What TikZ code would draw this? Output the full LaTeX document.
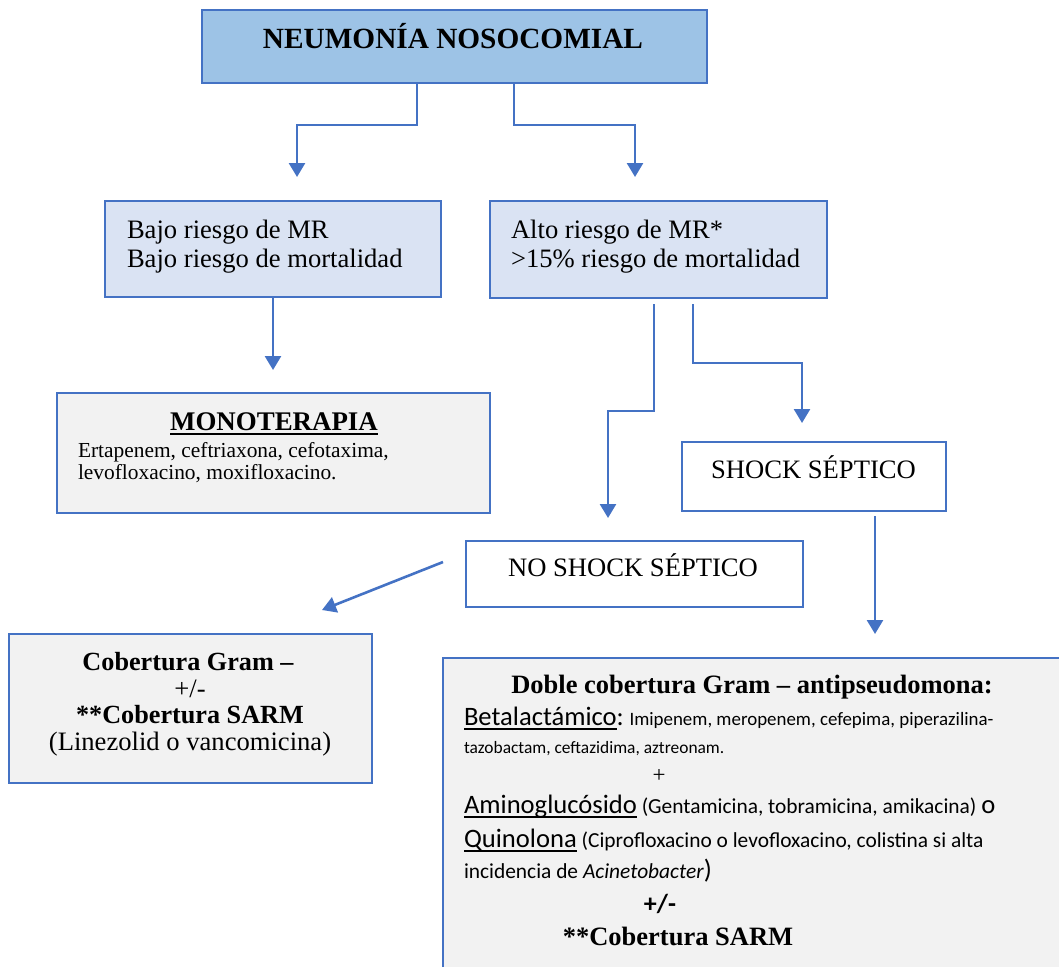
\documentclass[tikz,border=0pt]{standalone}
\usepackage{fontspec}
\setmainfont{Liberation Serif}
\newfontfamily\calibrif{Carlito}
\usetikzlibrary{arrows.meta}
\definecolor{bblue}{HTML}{4472C4}
\definecolor{titlefill}{HTML}{9DC3E6}
\definecolor{lightfill}{HTML}{DAE3F3}
\definecolor{grayfill}{HTML}{F2F2F2}
\newcommand{\setfs}[2]{\fontsize{#1}{#2}\selectfont}
\newcommand{\myul}[1]{\setbox0\hbox{#1}\rlap{\rule[-0.19em]{\wd0}{0.07em}}\box0}
\begin{document}
\begin{tikzpicture}[x=1pt,y=-1pt,
  box/.style={draw=bblue,line width=2.5pt,inner sep=0pt,outer sep=0pt,anchor=north west},
  conn/.style={draw=bblue,line width=2.6pt},
  arr/.style={conn,-{Triangle[width=16pt,length=14pt]}},
  txt/.style={inner sep=0pt,outer sep=0pt,text=black},
  big/.style={font=\setfs{26.6}{29}},
  small/.style={font=\setfs{21.4}{23}}
]
\useasboundingbox (0,0) rectangle (1059,967);

% boxes
\node[box,fill=titlefill,minimum width=505pt,minimum height=73pt] (title) at (202,10) {};
\node[box,fill=lightfill,minimum width=336pt,minimum height=96pt] (bajo) at (105,201) {};
\node[box,fill=lightfill,minimum width=337pt,minimum height=97pt] (alto) at (490,201) {};
\node[box,fill=grayfill,minimum width=433pt,minimum height=120pt] (mono) at (57,393) {};
\node[box,fill=white,minimum width=264pt,minimum height=69pt] (shock) at (682,442) {};
\node[box,fill=white,minimum width=337pt,minimum height=66pt] (noshock) at (466,541) {};
\node[box,fill=grayfill,minimum width=363pt,minimum height=149pt] (gram) at (9,634) {};
\node[box,draw=none,fill=grayfill,minimum width=616pt,minimum height=309pt] (doble) at (443,658) {};
\draw[box] (doble.south west) -- (doble.north west) -- (doble.north east);

% texts
\node[txt,anchor=base,font=\setfs{29.3}{31}\bfseries] (titlet) at (453,48) {NEUMONÍA NOSOCOMIAL};

\node[txt,big,anchor=base west] (bajo1) at (127,238) {Bajo riesgo de MR};
\node[txt,big,anchor=base west] (bajo2) at (127,267) {Bajo riesgo de mortalidad};

\node[txt,big,anchor=base west] (alto1) at (511,238) {Alto riesgo de MR*};
\node[txt,big,anchor=base west] (alto2) at (511,267) {>15\% riesgo de mortalidad};

\node[txt,anchor=base,font=\setfs{26.9}{29}\bfseries] (mono1) at (274,430) {\myul{MONOTERAPIA}};
\node[txt,small,anchor=base west] (mono2) at (78,457) {Ertapenem, ceftriaxona, cefotaxima,};
\node[txt,small,anchor=base west] (mono3) at (78,479) {levofloxacino, moxifloxacino.};

\node[txt,big,anchor=base] (shockt) at (813.5,478) {SHOCK SÉPTICO};
\node[txt,big,anchor=base] (noshockt) at (633,576) {NO SHOCK SÉPTICO};

\node[txt,anchor=base,font=\setfs{26.2}{29}\bfseries] (gram1) at (188,670) {Cobertura Gram –};
\node[txt,big,anchor=base] (gram2) at (190,697) {+/-};
\node[txt,anchor=base,font=\setfs{26.2}{29}\bfseries] (gram3) at (190,723) {**Cobertura SARM};
\node[txt,big,anchor=base] (gram4) at (190,750) {(Linezolid o vancomicina)};

\node[txt,anchor=base,font=\setfs{26.5}{29}\bfseries] (d1) at (752,693) {Doble cobertura Gram – antipseudomona:};
\node[txt,anchor=base west] (d2) at (464,725) {\calibrif\setfs{26.6}{28}\myul{Betalactámico}:\setfs{18.9}{20} Imipenem, meropenem, cefepima, piperazilina-};
\node[txt,anchor=base west] (d3) at (464,753) {\calibrif\setfs{17.4}{20}tazobactam, ceftazidima, aztreonam.};
\node[txt,anchor=base,font=\setfs{23}{25}] (d4) at (659,782) {+};
\node[txt,anchor=base west] (d5) at (464,813) {\calibrif\setfs{26.6}{28}\myul{Aminoglucósido}\setfs{21.4}{23} (Gentamicina, tobramicina, amikacina) \setfs{26.6}{28}o};
\node[txt,anchor=base west] (d6) at (464,847) {\calibrif\setfs{26.6}{28}\myul{Quinolona}\setfs{21.4}{23} (Ciprofloxacino o levofloxacino, colistina si alta};
\node[txt,anchor=base west] (d7) at (464,878) {\calibrif\setfs{21.4}{23}incidencia de \textit{Acinetobacter}\setfs{26.6}{28})};
\node[txt,anchor=base] (d8) at (660,912) {\calibrif\bfseries\setfs{26}{28}+/-};
\node[txt,anchor=base,font=\setfs{26.5}{29}\bfseries] (d9) at (678,945) {**Cobertura SARM};

% connectors
\coordinate (a1) at (417,125); \coordinate (t1) at (297,177);
\coordinate (a2) at (514,125); \coordinate (t2) at (635,177);
\coordinate (t3) at (273,370);
\coordinate (b1) at (654,411); \coordinate (t4) at (608,518);
\coordinate (b2) at (693,363); \coordinate (t5) at (802,423);
\coordinate (t6) at (875,634);
\coordinate (t7) at (322,610);

\draw[arr] (a1 |- title.south) -- (a1) -| (t1);
\draw[arr] (a2 |- title.south) -- (a2) -| (t2);
\draw[arr] (t3 |- bajo.south) -- (t3);
\draw[arr] (b1 |- alto.south) ++(0,6) -- (b1) -| (t4);
\draw[arr] (b2 |- alto.south) ++(0,6) -- (b2) -| (t5);
\draw[arr] (t6 |- shock.south) ++(0,5) -- (t6);
\draw[arr] ([xshift=-23pt,yshift=12pt]noshock.west) -- (t7);
\end{tikzpicture}
\end{document}
